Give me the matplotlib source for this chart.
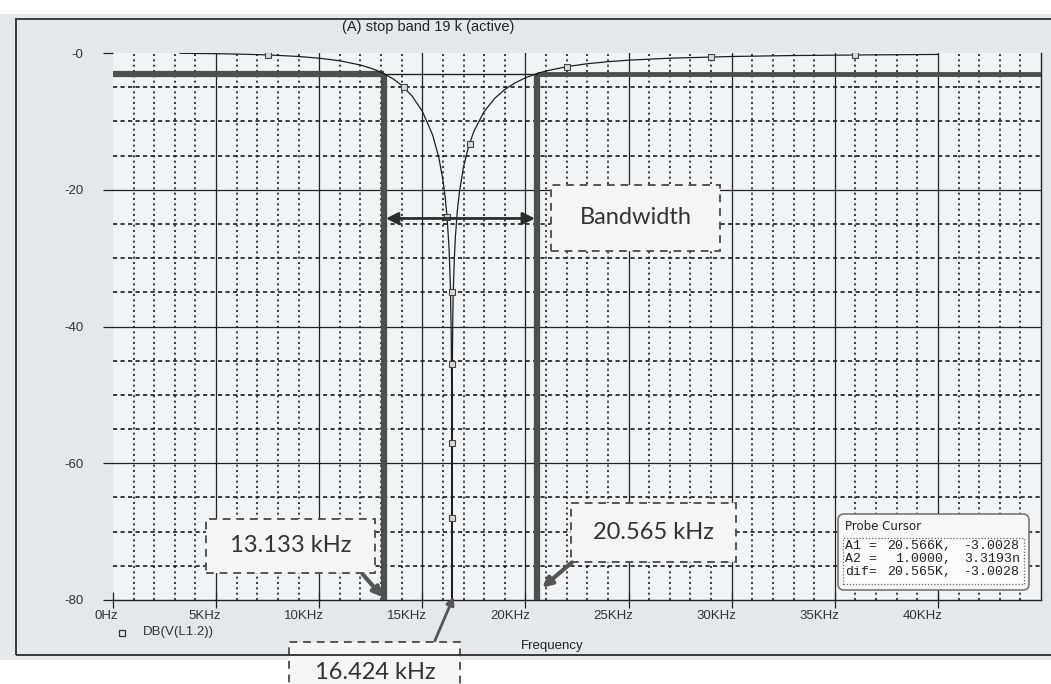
import numpy as np
import matplotlib.pyplot as plt
from matplotlib.patches import Rectangle, FancyBboxPatch
from matplotlib.lines import Line2D
from matplotlib.transforms import IdentityTransform

# notch response (kHz, dB)
freq_khz = [3.25, 5, 6, 7, 8, 9, 10, 11, 12, 12.6, 13.133, 13.6, 14, 14.5, 15,
            15.5, 15.8, 16.0, 16.1, 16.2, 16.3, 16.36, 16.40, 16.42, 16.434,
            16.45, 16.48, 16.5, 16.55, 16.6, 16.7, 16.8, 17.0, 17.25, 17.5,
            18, 18.5, 19, 19.5, 20, 20.565, 21, 22, 23, 24, 25, 27, 30, 33,
            36, 40]
gain_db = [-0.04, -0.10, -0.16, -0.23, -0.35, -0.51, -0.76, -1.14, -1.76,
           -2.32, -3.0, -3.82, -4.73, -6.28, -8.52, -12.0, -15.3, -18.6,
           -20.9, -24.0, -28.8, -34.0, -40.8, -48.5, -95.0, -47.3, -38.2,
           -35.0, -30.2, -27.0, -23.0, -20.3, -16.6, -13.6, -11.45, -8.55,
           -6.66, -5.33, -4.36, -3.63, -3.0, -2.63, -2.0, -1.57, -1.27,
           -1.05, -0.76, -0.51, -0.37, -0.29, -0.21]

# trace symbols
marker_khz = [7.5, 14.1, 16.2, 16.43, 16.43, 16.43, 16.43, 17.3, 22.0, 29.0, 36.0]
marker_db = [-0.3, -4.9, -24.0, -35.0, -45.5, -57.0, -68.0, -13.3, -2.0, -0.55, -0.29]

f_low, f_high, f_notch = 13.133, 20.565, 16.424
cut_db = -3.0
bw_db = -24.2

x_ticks = [0, 5, 10, 15, 20, 25, 30, 35, 40]
x_labels = ['0Hz', '5KHz', '10KHz', '15KHz', '20KHz', '25KHz', '30KHz', '35KHz', '40KHz']
y_ticks = [0, -20, -40, -60, -80]
y_labels = ['-0', '-20', '-40', '-60', '-80']

cursor_rows = [('A1 =', '20.566K,', '-3.0028'),
               ('A2 =', '1.0000,', '3.3193n'),
               ('dif=', '20.565K,', '-3.0028')]

W, H = 1051, 684


def fp(x, y):
    return x / W, 1 - y / H


fig = plt.figure(figsize=(W / 100, H / 100), dpi=100, facecolor='white')

# scanned window frame
fig.add_artist(Rectangle(fp(0, 660), 1, (660 - 14) / H, transform=fig.transFigure,
                         facecolor='#e5e7eb', edgecolor='none', zorder=0))
fig.add_artist(Rectangle(fp(16, 655), 1.0, (655 - 19) / H, transform=fig.transFigure,
                         facecolor='none', edgecolor='#3a3a3a', lw=1.4, zorder=1))

ax = fig.add_axes([113 / W, 1 - 600 / H, 928 / W, 547 / H])
ax.set_facecolor('#f2f3f5')
ax.set_xlim(0, 45)
ax.set_ylim(-80, 0)

for s in ['left', 'top']:
    ax.spines[s].set_visible(False)
for s in ['bottom', 'right']:
    ax.spines[s].set_color('#222222')
    ax.spines[s].set_linewidth(1.0)

# grid: dotted every 1 kHz / 5 dB, solid every 5 kHz / 20 dB
for f in np.arange(1, 45):
    if f % 5:
        ax.axvline(f, color='#1c1c1c', lw=1.2, ls=(0, (1.2, 2.0)), zorder=1)
    else:
        ax.axvline(f, color='#222222', lw=0.9, zorder=1)
for d in np.arange(-75, 0, 5):
    if d % 20:
        ax.axhline(d, color='#1c1c1c', lw=1.2, ls=(0, (2.5, 2.0)), zorder=1)
    else:
        ax.axhline(d, color='#222222', lw=0.9, zorder=1)

ax.set_yticks(y_ticks)
ax.set_yticklabels(y_labels, fontsize=9.5, color='#333333', family='Liberation Sans')
ax.tick_params(axis='y', direction='out', length=7.5, width=0.9, pad=14, color='#222222')
ax.set_xticks(x_ticks)
ax.set_xticklabels([])
ax.tick_params(axis='x', direction='inout', length=12, width=0.9, color='#222222')
for f, lab in zip(x_ticks, x_labels):
    ax.annotate(lab, xy=(f, 0), xycoords=('data', 'axes fraction'), xytext=(5, -10),
                textcoords='offset pixels', ha='right', va='top', fontsize=9.5,
                color='#333333', family='Liberation Sans')

# trace
ax.plot(freq_khz, gain_db, color='#1e1e1e', lw=0.9, zorder=4)
ax.plot(marker_khz, marker_db, ls='none', marker='s', ms=4, mfc='#d8d8d8',
        mec='#444444', mew=0.8, zorder=5)

# cursor lines
cur = dict(color='#4b524e', lw=4.5, solid_capstyle='butt', zorder=3)
ax.plot([0, f_low], [cut_db, cut_db], **cur)
ax.plot([f_low, f_low], [cut_db, -80], **cur)
ax.plot([f_high, f_high], [cut_db, -80], **cur)
ax.plot([f_high, 45], [cut_db, cut_db], color='#4b524e', lw=3.5, solid_capstyle='butt', zorder=3)
ax.plot([f_low, f_high], [cut_db, cut_db], color='#222222', lw=1.0, zorder=3)

# bandwidth arrow
ax.annotate('', xy=(f_low + 0.1, bw_db), xytext=(f_high - 0.1, bw_db),
            arrowprops=dict(arrowstyle='<|-|>', color='#2a2e2c', lw=2,
                            mutation_scale=18, shrinkA=0, shrinkB=0), zorder=6)


def callout(cx, cy, w, h, text):
    ax.add_patch(Rectangle((cx - w / 2, cy - h / 2), w, h, facecolor='#f5f5f5',
                           edgecolor='#555555', lw=1.4, ls=(0, (4, 3)),
                           clip_on=False, zorder=7))
    ax.text(cx, cy, text, ha='center', va='center', fontsize=17, family='Lato',
            color='#333333', clip_on=False, zorder=8)


callout(25.35, -24.1, 8.2, 9.6, 'Bandwidth')
callout(8.62, -72.1, 8.2, 7.9, '13.133 kHz')
callout(26.2, -70.1, 8.0, 8.6, '20.565 kHz')
callout(12.7, -90.6, 8.3, 9.0, '16.424 kHz')

arr = dict(arrowstyle='-|>', color='#555555', lw=3, mutation_scale=14, shrinkA=0, shrinkB=0)
ax.annotate('', xy=(f_low - 0.05, -79.6), xytext=(12.1, -76.2), arrowprops=arr,
            annotation_clip=False, zorder=8)
ax.annotate('', xy=(f_high + 0.25, -78.2), xytext=(22.25, -74.5), arrowprops=arr,
            annotation_clip=False, zorder=8)
ax.annotate('', xy=(f_notch + 0.1, -79.5), xytext=(15.6, -86.0),
            arrowprops=dict(arr, lw=2, mutation_scale=12),
            annotation_clip=False, zorder=8)

# texts around the plot
fig.text(*fp(428, 27), '(A) stop band 19 k (active)', ha='center', va='center',
         fontsize=10.5, color='#222222', family='Liberation Sans')
fig.text(*fp(552, 646), 'Frequency', ha='center', va='center', fontsize=9.5,
         color='#222222', family='Liberation Sans')
fig.add_artist(Line2D([fp(122, 633)[0]], [fp(122, 633)[1]], transform=fig.transFigure,
                      marker='s', ms=4, mfc='none', mec='#333333', mew=0.9))
fig.text(*fp(143, 632), 'DB(V(L1.2))', ha='left', va='center', fontsize=9.5,
         color='#333333', family='Liberation Sans')

# probe cursor window
fig.add_artist(FancyBboxPatch((838, H - 590), 191, 76, boxstyle='round,pad=0,rounding_size=6',
                              transform=IdentityTransform(), facecolor='#f6f6f6',
                              edgecolor='#777777', lw=1.2, zorder=9))
fig.add_artist(Rectangle((843, H - 584), 181, 46, transform=IdentityTransform(),
                         facecolor='#fbfbfb', edgecolor='#666666', lw=0.9,
                         ls=(0, (1, 1.5)), zorder=10))
fig.text(*fp(845, 527), 'Probe Cursor', ha='left', va='center', fontsize=8.5,
         color='#222222', family='DejaVu Sans', zorder=11)
for i, (a, b, c) in enumerate(cursor_rows):
    y = 546 + i * 13
    fig.text(*fp(845, y), a, ha='left', va='center', fontsize=9.5, family='Liberation Mono',
             color='#222222', zorder=11)
    fig.text(*fp(951, y), b, ha='right', va='center', fontsize=9.5, family='Liberation Mono',
             color='#222222', zorder=11)
    fig.text(*fp(1020, y), c, ha='right', va='center', fontsize=9.5, family='Liberation Mono',
             color='#222222', zorder=11)

fig.savefig('out.png', dpi=100)
